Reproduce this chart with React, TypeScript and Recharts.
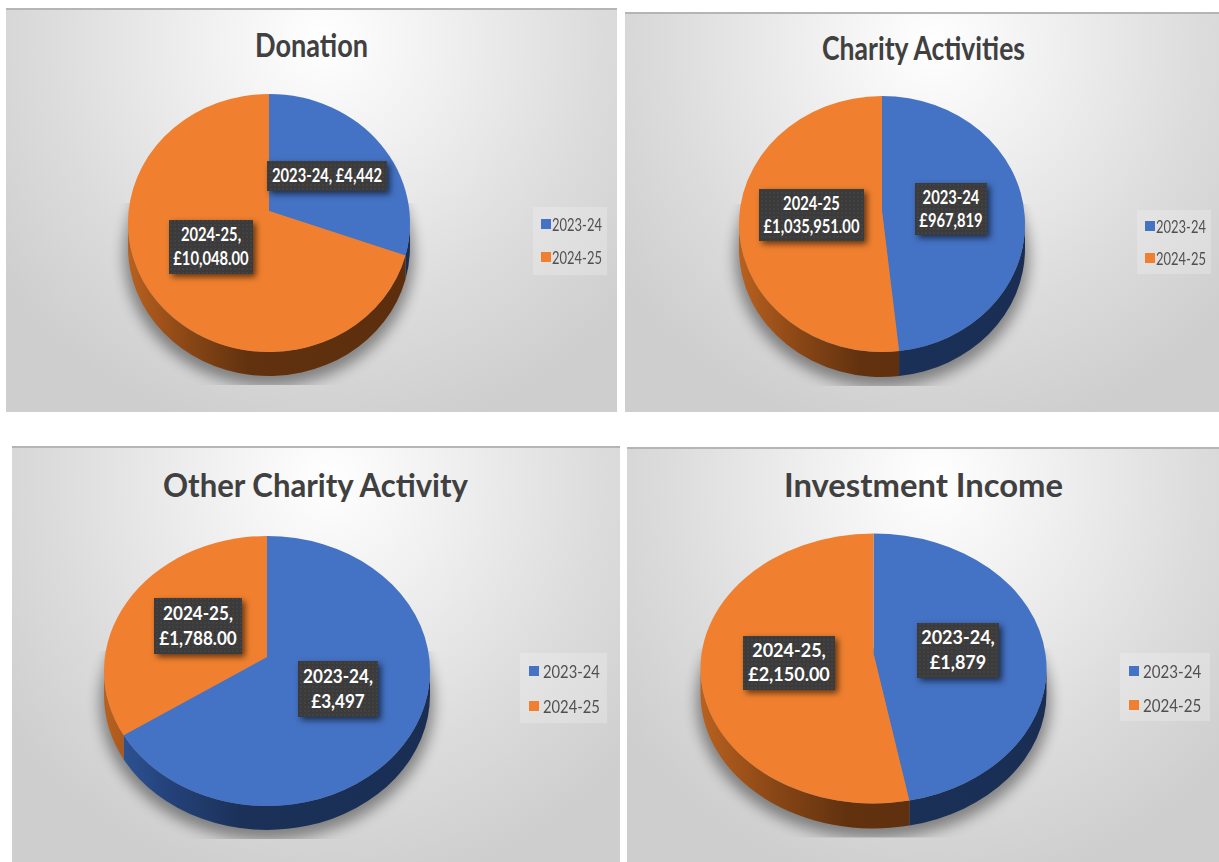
import { PieChart, Pie, Legend } from 'recharts';

const categories = ['2023-24', '2024-25'];
const donationValues = [4442, 10048];
const charityValues = [967819, 1035951];
const otherValues = [3497, 1788];
const investmentValues = [1879, 2150];
const sliceColors = ['#4472C4', '#F0802F'];
const wallStops = [
  ['#30589c', '#24427a', '#1b3158', '#1a2e54'],
  ['#b9611f', '#8c4816', '#62320f', '#5c2e0d'],
];

const panels = [
  {
    id: 'donation', title: 'Donation', values: donationValues, x: 6, y: 8, w: 611, h: 404,
    titleX: 311.5, titleBase: 57, titleW: 113,
    cx: 269, cy: 223, rx: 141, ry: 129, tilt: 12, depth: 24, sep: ',', scaleX: 0.82,
    boxes: [
      { x: 267, y: 161, w: 120, h: 30, oneLine: true },
      { x: 169, y: 220, w: 84, h: 54, oneLine: false },
    ],
    legend: { x: 533, y: 207, w: 74, h: 68, iconX: 8, textX: 19, rowA: 17, rowB: 50, scale: 0.72 },
  },
  {
    id: 'charity', title: 'Charity Activities', values: charityValues, x: 625, y: 12, w: 594, h: 400,
    titleX: 923.5, titleBase: 60, titleW: 203,
    cx: 882, cy: 224, rx: 143, ry: 128, tilt: 13, depth: 25, sep: '', scaleX: 0.82,
    boxes: [
      { x: 915, y: 183, w: 72, h: 52, oneLine: false },
      { x: 759, y: 189, w: 105, h: 52, oneLine: false },
    ],
    legend: { x: 1137, y: 210, w: 74, h: 64, iconX: 8, textX: 19, rowA: 16, rowB: 48, scale: 0.72 },
  },
  {
    id: 'other', title: 'Other Charity Activity', values: otherValues, x: 12, y: 446, w: 608, h: 416,
    titleX: 315.5, titleBase: 497, titleW: 305,
    cx: 267, cy: 671, rx: 163, ry: 135, tilt: 14, depth: 24, sep: ',', scaleX: 0.95,
    boxes: [
      { x: 298, y: 661, w: 80, h: 56, oneLine: false },
      { x: 154, y: 598, w: 88, h: 56, oneLine: false },
    ],
    legend: { x: 520, y: 653, w: 87, h: 70, iconX: 9, textX: 23, rowA: 18, rowB: 53, scale: 0.82 },
  },
  {
    id: 'investment', title: 'Investment Income', values: investmentValues, x: 627, y: 447, w: 592, h: 415,
    titleX: 923.5, titleBase: 497, titleW: 279,
    cx: 873.5, cy: 668.5, rx: 173, ry: 135, tilt: 15, depth: 25, sep: ',', scaleX: 1,
    boxes: [
      { x: 917, y: 623, w: 82, h: 55, oneLine: false },
      { x: 743, y: 636, w: 92, h: 54, oneLine: false },
    ],
    legend: { x: 1120, y: 653, w: 90, h: 68, iconX: 9, textX: 23, rowA: 18, rowB: 52, scale: 0.84 },
  },
];

const money = (value: number, i: number) =>
  '£' + value.toLocaleString('en-GB', { minimumFractionDigits: i === 1 ? 2 : 0 });

// clockwise angle of the slice edge -> parameter on the tilted rim (the apex sits above the rim centre)
function rimParam(p: any, deg: number) {
  if (deg <= 0) return 0;
  if (deg >= 360) return 360;
  const a = (deg * Math.PI) / 180;
  const dx = Math.sin(a);
  const dy = -Math.cos(a) * 0.88;
  const qa = (dx / p.rx) ** 2 + (dy / p.ry) ** 2;
  const qb = (-2 * p.tilt * dy) / p.ry ** 2;
  const qc = (p.tilt / p.ry) ** 2 - 1;
  const l = (-qb + Math.sqrt(qb * qb - 4 * qa * qc)) / (2 * qa);
  const x = l * dx;
  const y = -p.tilt + l * dy;
  const t = (Math.atan2(x / p.rx, -y / p.ry) * 180) / Math.PI;
  return t < 0 ? t + 360 : t;
}

const rimPoint = (p: any, cx: number, cy: number, t: number, drop = 0) => {
  const r = (t * Math.PI) / 180;
  return `${cx + p.rx * Math.sin(r)} ${cy - p.ry * Math.cos(r) + drop}`;
};

function TopSlice({ panel, cx, cy, startAngle, endAngle, fill }: any) {
  const t0 = rimParam(panel, 90 - startAngle);
  const t1 = rimParam(panel, 90 - endAngle);
  const large = t1 - t0 > 180 ? 1 : 0;
  const d = `M ${cx} ${cy - panel.tilt} L ${rimPoint(panel, cx, cy, t0)} A ${panel.rx} ${panel.ry} 0 ${large} 1 ${rimPoint(panel, cx, cy, t1)} Z`;
  return <path d={d} fill={fill} stroke="none" />;
}

function WallSlice({ panel, cx, cy, startAngle, endAngle, fill }: any) {
  const t0 = rimParam(panel, 90 - startAngle);
  const t1 = rimParam(panel, 90 - endAngle);
  const lo = Math.max(t0, 90);
  const hi = Math.min(t1, 270);
  const which = sliceColors.indexOf(fill);
  const gradId = `wall-${panel.id}-${which}`;
  const { rx, ry, depth } = panel;
  const first = startAngle === 90;
  return (
    <g>
      <defs>
        <linearGradient id={gradId} gradientUnits="userSpaceOnUse" x1={cx - rx} x2={cx + rx} y1={0} y2={0}>
          <stop offset="0" stopColor={wallStops[which][0]} />
          <stop offset="0.2" stopColor={wallStops[which][1]} />
          <stop offset="0.42" stopColor={wallStops[which][2]} />
          <stop offset="1" stopColor={wallStops[which][3]} />
        </linearGradient>
        {first && (
          <filter id={`blur-${panel.id}`} x="-20%" y="-20%" width="140%" height="140%">
            <feGaussianBlur stdDeviation="7" />
          </filter>
        )}
        {first && (
          <clipPath id={`clip-${panel.id}`}>
            <rect x={cx - rx - 30} y={cy - 20} width={2 * rx + 60} height={ry + depth + 29} />
          </clipPath>
        )}
      </defs>
      {first && (
        <g clipPath={`url(#clip-${panel.id})`}>
          <ellipse cx={cx} cy={cy + depth + 8} rx={rx + 4} ry={ry + 2} fill="#000" opacity={0.4} filter={`url(#blur-${panel.id})`} />
        </g>
      )}
      {lo < hi && (
        <path
          d={`M ${rimPoint(panel, cx, cy, lo)} A ${rx} ${ry} 0 0 1 ${rimPoint(panel, cx, cy, hi)} L ${rimPoint(panel, cx, cy, hi, depth)} A ${rx} ${ry} 0 0 0 ${rimPoint(panel, cx, cy, lo, depth)} Z`}
          fill={`url(#${gradId})`}
        />
      )}
    </g>
  );
}

function SliceLabel({ panel, index, name, value }: any) {
  const box = panel.boxes[index];
  const bx = box.x - panel.x;
  const by = box.y - panel.y;
  const mid = bx + box.w / 2;
  const patId = `dots-${panel.id}-${index}`;
  const lines = box.oneLine
    ? [`${name}${panel.sep} ${money(value, index)}`]
    : [`${name}${panel.sep}`, money(value, index)];
  const step = box.h / 2 - 3;
  const firstBase = by + box.h / 2 + 6 - (lines.length - 1) * (step / 2);
  return (
    <g>
      <defs>
        <pattern id={patId} width="4" height="4" patternUnits="userSpaceOnUse">
          <circle cx="1" cy="1" r="0.8" fill="#555" />
        </pattern>
      </defs>
      <g style={{ filter: 'drop-shadow(3px 3px 3px rgba(0,0,0,0.6))' }}>
        <rect x={bx} y={by} width={box.w} height={box.h} fill="#3b3b3b" />
      </g>
      <rect x={bx} y={by} width={box.w} height={box.h} fill={`url(#${patId})`} opacity={0.6} />
      {lines.map((line, i) => (
        <text
          key={line}
          transform={`translate(${mid} ${firstBase + i * step}) scale(${panel.scaleX} 1)`}
          textAnchor="middle"
          fontFamily="Lato"
          fontWeight={700}
          fontSize={18}
          fill="#fff"
        >
          {line}
        </text>
      ))}
    </g>
  );
}

function LegendBox({ panel, payload }: any) {
  const l = panel.legend;
  // both Pie layers report items, keep one per category
  const items = categories.map((name) => (payload || []).find((item: any) => item.value === name)).filter(Boolean);
  return (
    <div style={{ position: 'relative', width: l.w, height: l.h, background: 'rgba(255,255,255,0.22)' }}>
      {items.map((item: any, i: number) => {
        const row = i === 0 ? l.rowA : l.rowB;
        return (
          <div key={item.value}>
            <div style={{ position: 'absolute', left: l.iconX, top: row - 5, width: 10, height: 10, background: item.color }} />
            <div
              style={{
                position: 'absolute',
                left: l.textX,
                top: row - 12,
                fontFamily: 'Lato',
                fontSize: 18,
                lineHeight: '24px',
                color: '#505050',
                transform: `scaleX(${l.scale})`,
                transformOrigin: 'left center',
                whiteSpace: 'nowrap',
              }}
            >
              {item.value}
            </div>
          </div>
        );
      })}
    </div>
  );
}

function PiePanel({ panel }: any) {
  const data = categories.map((name, i) => ({ name, value: panel.values[i], fill: sliceColors[i] }));
  const cx = panel.cx - panel.x;
  const cy = panel.cy - panel.y;
  return (
    <div
      style={{
        position: 'absolute',
        left: panel.x,
        top: panel.y,
        width: panel.w,
        height: panel.h,
        boxSizing: 'border-box',
        background:
          'radial-gradient(ellipse 66% 100% at 52% 8%, #ffffff 0%, #f0f0f0 30%, #dcdcdc 68%, #cecece 100%)',
        boxShadow: 'inset 0 2px 0 #b5b5b5',
      }}
    >
      <PieChart width={panel.w} height={panel.h} margin={{ top: 0, right: 0, bottom: 0, left: 0 }}>
        <text
          x={panel.titleX - panel.x}
          y={panel.titleBase - panel.y}
          textAnchor="middle"
          textLength={panel.titleW}
          lengthAdjust="spacingAndGlyphs"
          fontFamily="Lato"
          fontWeight={700}
          fontSize={33}
          fill="#404040"
        >
          {panel.title}
        </text>
        <Pie
          data={data}
          dataKey="value"
          nameKey="name"
          cx={cx}
          cy={cy}
          outerRadius={panel.rx}
          startAngle={90}
          endAngle={-270}
          legendType="none"
          isAnimationActive={false}
          shape={(props: any) => <WallSlice {...props} panel={panel} />}
        />
        <Pie
          data={data}
          dataKey="value"
          nameKey="name"
          cx={cx}
          cy={cy}
          outerRadius={panel.rx}
          startAngle={90}
          endAngle={-270}
          isAnimationActive={false}
          labelLine={false}
          label={(props: any) => <SliceLabel {...props} panel={panel} />}
          shape={(props: any) => <TopSlice {...props} panel={panel} />}
        />
        <Legend
          layout="vertical"
          align="right"
          verticalAlign="middle"
          wrapperStyle={{ left: panel.legend.x - panel.x, top: panel.legend.y - panel.y, width: panel.legend.w, height: panel.legend.h }}
          content={(props: any) => <LegendBox {...props} panel={panel} />}
        />
      </PieChart>
    </div>
  );
}

export default function App() {
  return (
    <div style={{ position: 'absolute', left: 0, top: 0, width: 1219, height: 862, background: '#fff', overflow: 'hidden' }}>
      {panels.map((panel) => (
        <PiePanel key={panel.id} panel={panel} />
      ))}
    </div>
  );
}
